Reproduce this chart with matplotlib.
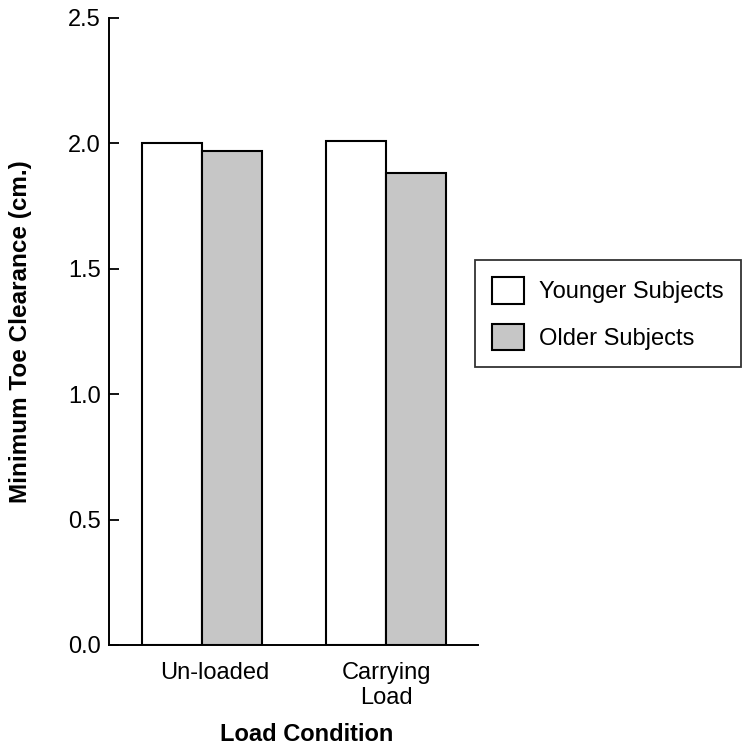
import numpy as np
import matplotlib.pyplot as plt

plt.rcParams['font.family'] = ['Liberation Sans', 'DejaVu Sans']

conditions = ["Un-loaded", "Carrying\nLoad"]
younger = [2.00, 2.01]
older = [1.97, 1.88]
series_names = ["Younger Subjects", "Older Subjects"]

fig = plt.figure(figsize=(7.52, 7.54), dpi=100)
ax = fig.add_axes([0.145, 0.1446, 0.491, 0.832])

x = np.arange(len(conditions))
w = 0.326
b1 = ax.bar(x - w/2, younger, w, color='white', edgecolor='black', linewidth=1.5,
            label=series_names[0])
b2 = ax.bar(x + w/2, older, w, color='#c6c6c6', edgecolor='black', linewidth=1.5,
            label=series_names[1])

ax.set_xlim(-0.505, 1.5)
ax.set_ylim(0, 2.5)
ax.set_yticks([0, 0.5, 1.0, 1.5, 2.0, 2.5])
ax.set_yticklabels(["0.0", "0.5", "1.0", "1.5", "2.0", "2.5"])
ax.tick_params(axis='y', direction='in', length=7, width=1.3, labelsize=17, pad=6)
ax.set_xticks([0.07, 1.0])
ax.set_xticklabels(conditions)
ax.tick_params(axis='x', length=0, labelsize=17, pad=12)

for s in ['top', 'right']:
    ax.spines[s].set_visible(False)
for s in ['left', 'bottom']:
    ax.spines[s].set_linewidth(1.4)

ax.set_ylabel("Minimum Toe Clearance (cm.)", fontsize=17.5, fontweight='bold')
ax.yaxis.set_label_coords(-0.21, 0.5)
ax.set_xlabel("Load Condition", fontsize=17, fontweight='bold')
ax.xaxis.set_label_coords(0.535, -0.125)

leg = fig.legend(handles=[b1, b2], labels=series_names, loc='upper left',
                 bbox_to_anchor=(0.632, 0.655), borderaxespad=0, fontsize=17,
                 fancybox=False, edgecolor='black', handlelength=1.35,
                 handleheight=1.35, borderpad=0.72, labelspacing=0.85,
                 handletextpad=0.65)
leg.get_frame().set_linewidth(1.3)

fig.savefig("out.png", dpi=100)
